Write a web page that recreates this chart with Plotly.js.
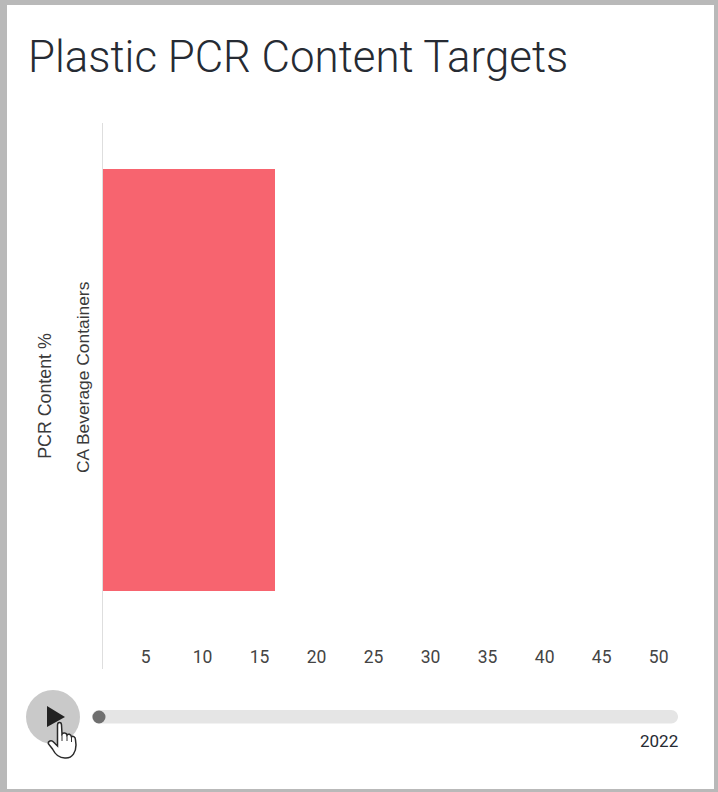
<!DOCTYPE html>
<html>
<head>
<meta charset="utf-8">
<script src="https://cdn.plot.ly/plotly-3.0.1.min.js"></script>
<style>
  html, body { margin: 0; padding: 0; width: 718px; height: 792px; overflow: hidden; background: #b9b9b9; }
  #card { position: absolute; left: 0; top: 0; width: 718px; height: 792px; }
</style>
</head>
<body>
<div id="card"></div>
<script>
const categories = ['CA Beverage Containers'];
const pcrContent = [16.35];
const tickValues = [5, 10, 15, 20, 25, 30, 35, 40, 45, 50];
const years = ['2022'];

const W = 718, H = 792;
const M = { l: 103, r: 40, t: 123, b: 123 };

// Slider furniture is positioned in window pixels, converted to paper fractions.
const px = x => (x - M.l) / (W - M.l - M.r);
const py = y => 1 - (y - M.t) / (H - M.t - M.b);
const pathOf = (pts, open) => pts.map((p, i) => {
  if (p.length === 2) return (i ? 'L' : 'M') + px(p[0]) + ',' + py(p[1]);
  return 'C' + px(p[0]) + ',' + py(p[1]) + ' ' + px(p[2]) + ',' + py(p[3]) + ' ' + px(p[4]) + ',' + py(p[5]);
}).join(' ') + (open ? '' : ' Z');
const paperShape = o => Object.assign({ xref: 'paper', yref: 'paper', layer: 'above', line: { width: 0 } }, o);
const circle = (cx, cy, r, color) => paperShape({
  type: 'circle', x0: px(cx - r), x1: px(cx + r), y0: py(cy + r), y1: py(cy - r), fillcolor: color
});
const roundedBar = (x0, x1, y0, y1, color) => {
  const r = (y1 - y0) / 2, k = r * 0.55;
  return paperShape({
    type: 'path', fillcolor: color,
    path: pathOf([
      [x0 + r, y0], [x1 - r, y0],
      [x1 - r + k, y0, x1, y0 + r - k, x1, y0 + r],
      [x1, y1 - r + k, x1 - r + k, y1, x1 - r, y1],
      [x0 + r, y1],
      [x0 + r - k, y1, x0, y1 - r + k, x0, y0 + r],
      [x0, y0 + r - k, x0 + r - k, y0, x0 + r, y0]
    ])
  });
};

// Cursor hand resting on the play button
const hand = [
  [57.5, 725],
  [57.5, 721.5, 61.5, 721.5, 61.5, 725],
  [62, 734],
  [63, 732.5, 66.5, 732.5, 67, 735],
  [68, 733.5, 71, 734, 71.5, 737],
  [72.5, 735.5, 75.5, 736.5, 75.5, 740],
  [76, 745],
  [76, 752, 72.5, 758, 66, 758],
  [60, 758.5, 55.5, 755, 52.5, 749],
  [48.5, 744],
  [47.5, 741, 51.5, 739.5, 53.5, 742],
  [57.5, 746]
];
const knuckle = (x, y0, y1) => paperShape({
  type: 'path', line: { color: '#333333', width: 1 }, path: pathOf([[x, y0], [x, y1]], true)
});

const shapes = [
  roundedBar(92, 678, 710, 723.5, '#e5e5e5'),
  circle(99, 717, 6.5, '#6f6f6f'),
  circle(53, 717, 27, '#c9c9c9'),
  paperShape({ type: 'path', fillcolor: '#222222', path: pathOf([[47, 706], [65, 717], [47, 727]]) }),
  paperShape({ type: 'path', fillcolor: '#ffffff', line: { color: '#2a2a2a', width: 1.5 }, path: pathOf(hand) }),
  knuckle(62, 734, 741),
  knuckle(67, 735, 741),
  knuckle(71.5, 737, 742)
];

const trace = {
  type: 'bar',
  orientation: 'h',
  y: categories,
  x: pcrContent,
  width: 1,
  marker: { color: '#f7646f', line: { width: 0 } },
  hoverinfo: 'skip'
};

const layout = {
  width: W,
  height: H,
  margin: M,
  paper_bgcolor: 'rgba(0,0,0,0)',
  plot_bgcolor: '#ffffff',
  showlegend: false,
  title: {
    text: 'Plastic PCR Content Targets',
    x: 28 / W, xanchor: 'left',
    y: 1 - 57 / H, yanchor: 'middle',
    font: { family: 'Roboto', size: 43.8, color: '#262b33', weight: 300 }
  },
  xaxis: {
    range: [1.263, 51.7],
    tickmode: 'array',
    tickvals: tickValues,
    ticks: '',
    showgrid: false,
    zeroline: false,
    showline: false,
    ticklabelposition: 'inside',
    tickfont: { family: 'Roboto', size: 17.5, color: '#444444' }
  },
  yaxis: {
    type: 'category',
    range: [-0.685, 0.609],
    ticks: '',
    showgrid: false,
    zeroline: false,
    showline: true,
    linecolor: '#dedede',
    linewidth: 1,
    tickangle: -90,
    ticklabelstandoff: 6,
    tickfont: { family: 'Liberation Sans', size: 17.4, color: '#3a3a3a' },
    title: {
      text: 'PCR Content %',
      standoff: 16,
      font: { family: 'Liberation Sans', size: 17.8, color: '#3a3a3a' }
    }
  },
  shapes: shapes,
  annotations: [{
    xref: 'paper', yref: 'paper',
    x: px(680), y: py(741),
    xanchor: 'right', yanchor: 'middle',
    text: years[years.length - 1],
    showarrow: false,
    font: { family: 'Roboto', size: 17, color: '#262b33' }
  }]
};

// White card behind the whole figure, inset from the grey frame
const card = document.getElementById('card');
card.style.background = 'linear-gradient(#fff,#fff) no-repeat 7px 5px / 707px 784px';

Plotly.newPlot(card, [trace], layout, { displayModeBar: false, responsive: false });
</script>
</body>
</html>
